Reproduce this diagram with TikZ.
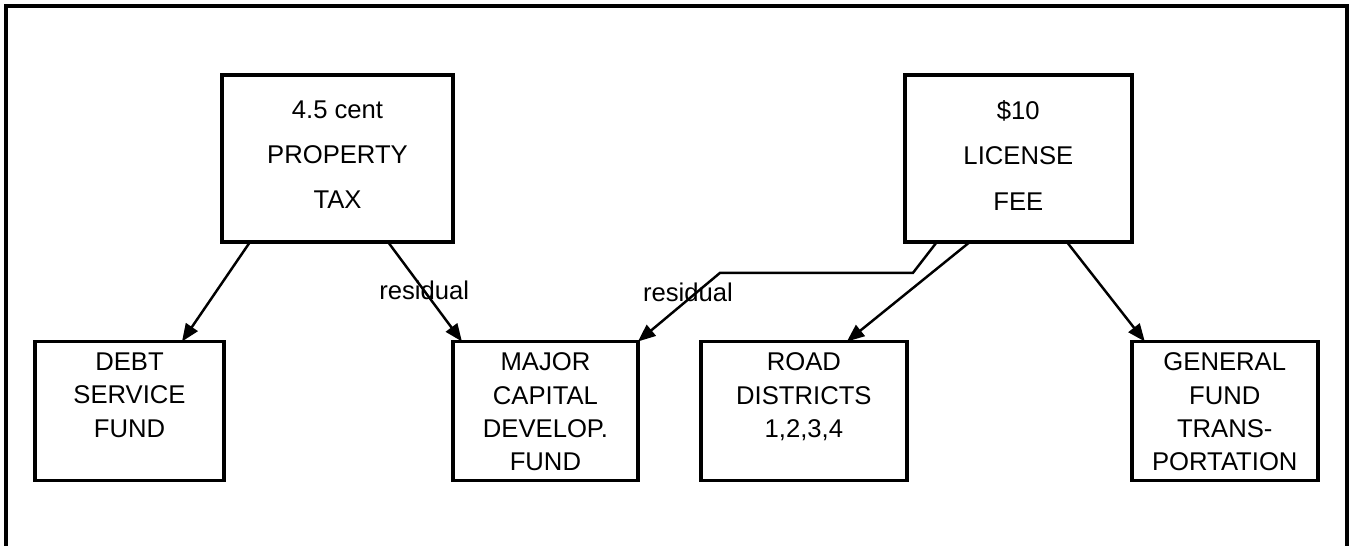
\documentclass[tikz,border=0pt]{standalone}
\usepackage{fontspec}
\setmainfont{Liberation Sans}
\usetikzlibrary{arrows.meta,positioning,calc}

\begin{document}
\begin{tikzpicture}[
    x=0.02cm,y=-0.02cm,
    srcbox/.style={draw,line width=2pt,outer sep=0pt,minimum height=3.34cm,inner sep=0pt},
    fundbox/.style={draw,line width=2pt,outer sep=0pt,minimum height=2.78cm,inner sep=0pt},
    srctext/.style={align=center,inner sep=0pt,anchor=north,font=\fontsize{14.6}{25.8}\selectfont},
    fundtext/.style={align=center,inner sep=0pt,anchor=north,font=\fontsize{14.6}{19}\selectfont},
    flow/.style={-{Triangle[length=10pt,width=8pt]},line width=1.4pt},
    note/.style={font=\fontsize{14.6}{16}\selectfont,inner sep=0pt}
  ]
    \useasboundingbox (0,0) rectangle (1353,546);
    % outer frame, open at the bottom
    \draw[line width=2pt] (6,546) |- (1347,6) -- (1347,546);
    % revenue sources
    \node[srcbox,minimum width=4.62cm] (tax) at (337.5,158.5) {};
    \node[srcbox,minimum width=4.54cm,right=9.04cm of tax] (fee) {};
    \node[srctext] (taxtxt) at ([yshift=-0.5cm]tax.north) {4.5 cent\\PROPERTY\\TAX};
    \node[srctext] (feetxt) at ([yshift=-0.5cm]fee.north) {\$10\\LICENSE\\FEE};
    % funds
    \node[fundbox,minimum width=3.78cm] (debt) at (129.5,411) {};
    \node[fundbox,minimum width=3.7cm,right=4.58cm of debt] (major) {};
    \node[fundbox,minimum width=4.12cm,right=1.26cm of major] (road) {};
    \node[fundbox,minimum width=3.72cm,right=4.5cm of road] (general) {};
    \node[fundtext] (debttxt) at ([yshift=-0.22cm]debt.north) {DEBT\\SERVICE\\FUND};
    \node[fundtext] (majortxt) at ([yshift=-0.22cm]major.north) {MAJOR\\CAPITAL\\DEVELOP.\\FUND};
    \node[fundtext] (roadtxt) at ([yshift=-0.22cm]road.north) {ROAD\\DISTRICTS\\1,2,3,4};
    \node[fundtext] (generaltxt) at ([yshift=-0.22cm]general.north) {GENERAL\\FUND\\TRANS-\\PORTATION};
    % flows
    \draw[flow] ([xshift=0.56cm]tax.south west) -- ([xshift=2.94cm]debt.north west);
    \draw[flow] ([xshift=3.32cm]tax.south west) -- node[note,pos=0.49]{residual} ([xshift=0.18cm]major.north west);
    \draw[flow] ([xshift=0.64cm]fee.south west) -- ++(-24,31) -- ++(-193,0)
      -- node[note,pos=0.28,xshift=-0.18cm]{residual} (major.north east);
    \draw[flow] ([xshift=1.3cm]fee.south west) -- ([xshift=2.92cm]road.north west);
    \draw[flow] ([xshift=3.24cm]fee.south west) -- ([xshift=0.26cm]general.north west);
  \end{tikzpicture}
\end{document}
